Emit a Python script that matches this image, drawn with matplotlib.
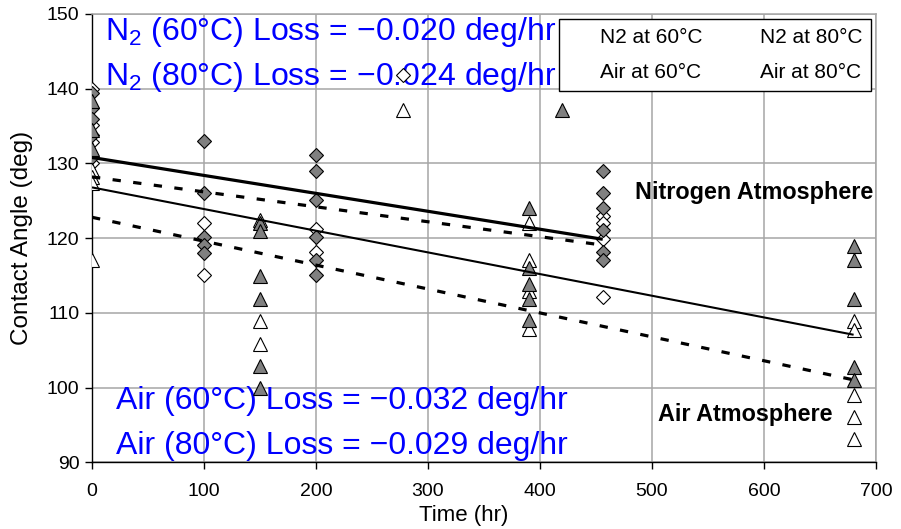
import matplotlib
matplotlib.use("Agg")
import matplotlib.pyplot as plt
from matplotlib.lines import Line2D

plt.rcParams['font.family'] = ['Liberation Sans', 'DejaVu Sans']
plt.rcParams['mathtext.fontset'] = 'custom'
plt.rcParams['mathtext.rm'] = 'Liberation Sans'
plt.rcParams['mathtext.it'] = 'Liberation Sans:italic'
plt.rcParams['mathtext.bf'] = 'Liberation Sans:bold'

# Contact angle measurements (deg) at each exposure time (hr)
n2_60_time = [0, 0, 0, 0, 100, 100, 200, 200, 278, 456, 456, 456, 456]
n2_60_angle = [140.0, 135.1, 132.9, 130.1, 122.1, 115.1, 121.2, 118.2, 141.9,
               123.0, 122.1, 119.9, 112.1]

n2_80_time = [0, 0, 0, 0, 0, 100, 100, 100, 100, 100,
              200, 200, 200, 200, 200, 200, 456, 456, 456, 456, 456, 456]
n2_80_angle = [139.4, 137.4, 136.0, 133.8, 130.9, 133.0, 126.1, 120.2, 119.1, 118.0,
               131.1, 129.0, 125.1, 120.2, 117.1, 115.1, 129.0, 126.1, 124.1, 121.1, 118.2, 117.1]

air_60_time = [0, 0, 0, 0, 150, 150, 150, 278, 390, 390, 390, 390,
               680, 680, 680, 680, 680]
air_60_angle = [129.1, 128.2, 127.4, 117.1, 122.5, 108.9, 105.9, 137.2,
                122.1, 117.1, 113.0, 107.9, 108.9, 107.7, 99.0, 96.1, 93.1]

air_80_time = [0, 0, 0, 150, 150, 150, 150, 150, 150, 390, 390, 390, 390, 390,
               420, 680, 680, 680, 680, 680]
air_80_angle = [138.3, 134.5, 132.0, 122.0, 121.0, 114.9, 111.9, 102.9, 99.9,
                124.0, 116.0, 113.9, 111.9, 109.0, 137.1, 118.9, 117.1, 111.9, 102.8, 101.0]

# Linear trend fits: intercept (deg), slope (deg/hr), time span (hr)
n2_60_fit = (128.2, -0.020, 0, 456)
n2_80_fit = (130.8, -0.024, 0, 456)
air_60_fit = (122.8, -0.032, 0, 680)
air_80_fit = (126.8, -0.029, 0, 680)

legend_labels = ['N2 at 60°C', 'Air at 60°C', 'N2 at 80°C', 'Air at 80°C']
x_ticks = [0, 100, 200, 300, 400, 500, 600, 700]
y_ticks = [90, 100, 110, 120, 130, 140, 150]

W, H = 901, 529
fig = plt.figure(figsize=(W / 100, H / 100), dpi=100)


def fx(px):
    return px / W


def fy(py):
    return 1 - py / H


ax_left, ax_right, ax_top, ax_bottom = 92, 876, 14, 462.4
ax = fig.add_axes([fx(ax_left), fy(ax_bottom), (ax_right - ax_left) / W,
                   (ax_bottom - ax_top) / H])
ax.set_xlim(0, 700)
ax.set_ylim(90, 150)
ax.set_xticks(x_ticks)
ax.set_yticks(y_ticks)
ax.grid(True, color='#a6a6a6', linewidth=1.1, zorder=0)
ax.set_axisbelow(True)
for side in ('top', 'right'):
    ax.spines[side].set_color('#a6a6a6')
    ax.spines[side].set_linewidth(1.1)
for side in ('left', 'bottom'):
    ax.spines[side].set_color('black')
    ax.spines[side].set_linewidth(1.0)
ax.tick_params(axis='y', direction='out', length=5, width=1, pad=4, labelsize=14)
ax.tick_params(axis='x', direction='out', length=5, width=1, pad=10, labelsize=14)

gray = '#808080'
ax.plot(n2_60_time, n2_60_angle, linestyle='none', marker='D', ms=7.2,
        mfc='white', mec='black', mew=0.8, zorder=3)
ax.plot(n2_80_time, n2_80_angle, linestyle='none', marker='D', ms=7.2,
        mfc=gray, mec='black', mew=0.8, zorder=3)
ax.plot(air_60_time, air_60_angle, linestyle='none', marker='^', ms=10.5,
        mfc='white', mec='black', mew=0.8, zorder=3)
ax.plot(air_80_time, air_80_angle, linestyle='none', marker='^', ms=10.5,
        mfc=gray, mec='black', mew=0.8, zorder=3)


def trend(fit):
    b, m, t0, t1 = fit
    return [t0, t1], [b + m * t0, b + m * t1]


dash = (2.6, 3.9)
tx, ty = trend(n2_80_fit)
ax.plot(tx, ty, color='black', lw=2.3, solid_capstyle='butt', zorder=4)
tx, ty = trend(n2_60_fit)
ax.plot(tx, ty, color='black', lw=2.3, dashes=dash, dash_capstyle='butt', zorder=4)
tx, ty = trend(air_80_fit)
ax.plot(tx, ty, color='black', lw=1.5, solid_capstyle='butt', zorder=4)
tx, ty = trend(air_60_fit)
ax.plot(tx, ty, color='black', lw=2.3, dashes=dash, dash_capstyle='butt', zorder=4)

ax.set_xlabel('Time (hr)', fontsize=16)
ax.xaxis.label.set_va('center')
ax.xaxis.set_label_coords((464 - ax_left) / (ax_right - ax_left),
                          (ax_bottom - 516) / (ax_bottom - ax_top))
ax.set_ylabel('Contact Angle (deg)', fontsize=17.5)
ax.yaxis.label.set_va('center')
ax.yaxis.set_label_coords((22 - ax_left) / (ax_right - ax_left), 0.5)

# Fitted loss rates (kept beneath the markers)
blue = '#0000ff'
fs_blue = 23
loss_texts = [
    (105, 40, 'N$_\\mathrm{2}$ (60°C) Loss = \u22120.020 deg/hr'),
    (105, 85, 'N$_\\mathrm{2}$ (80°C) Loss = \u22120.024 deg/hr'),
    (116, 409, 'Air (60°C) Loss = \u22120.032 deg/hr'),
    (116, 454, 'Air (80°C) Loss = \u22120.029 deg/hr'),
]
for px, py, s in loss_texts:
    ax.text(fx(px), fy(py), s, transform=fig.transFigure, color=blue,
            fontsize=fs_blue, va='baseline', ha='left', zorder=2.5, clip_on=False)

ax.text(fx(873), fy(192), 'Nitrogen Atmosphere', transform=fig.transFigure,
        fontsize=16.8, fontweight='bold', ha='right', va='center', zorder=2.5)
ax.text(fx(832), fy(415), 'Air Atmosphere', transform=fig.transFigure,
        fontsize=16.8, fontweight='bold', ha='right', va='center', zorder=2.5)

# Chart title, sitting at the very top edge
fig.text(fx(112), fy(-6), 'Stability of Treated Surfaces (N2 and Air at 60°C and 80°C)',
         fontsize=16, fontweight='bold', ha='left', va='baseline')

handles = [Line2D([], [], linestyle='none', marker='None') for _ in legend_labels]
leg = ax.legend(handles, legend_labels, ncol=2, loc='upper right',
                bbox_to_anchor=(fx(871), fy(19)), bbox_transform=fig.transFigure,
                borderaxespad=0, fontsize=15, frameon=True, fancybox=False,
                edgecolor='black', framealpha=1, borderpad=0.42, labelspacing=0.8,
                handlelength=1.08, handletextpad=0.44, columnspacing=1.25)
leg.get_frame().set_linewidth(1.0)
leg.set_zorder(5)

fig.savefig('out.png', dpi=100)
